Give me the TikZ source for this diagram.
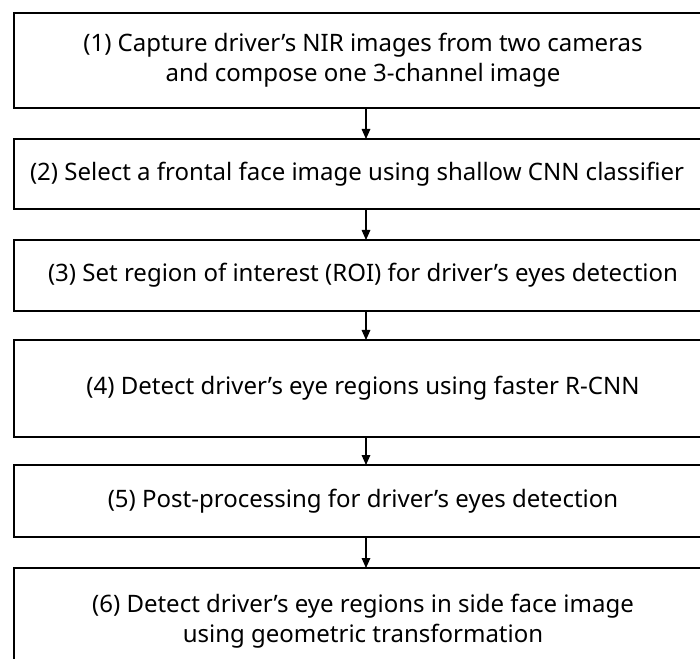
\documentclass[tikz,border=0pt]{standalone}
\usepackage{fontspec}
\setmainfont{Noto Sans}
\usetikzlibrary{arrows.meta}
\begin{document}
\begin{tikzpicture}[x=0.75pt,y=-0.75pt,
  stepbox/.style={draw=black, line width=1.6pt, minimum width=523.5pt, inner sep=0pt, outer sep=0pt,
    align=center, font=\fontsize{18}{22.5}\selectfont, anchor=north west},
  flow/.style={-{Triangle[width=6.5pt,length=7.5pt]}, line width=0.8pt}]
\useasboundingbox (0,0) rectangle (700,659);
\clip (0,0) rectangle (700,659);
\fill[white] (0,0) rectangle (700,659);
\node[stepbox, minimum height=71.25pt] (b1) at (14,13) {(1) Capture driver’s NIR images from two cameras\\and compose one 3-channel image};
\node[stepbox, minimum height=52.5pt] (b2) at (14,139) {(2) Select a frontal face image using shallow CNN classifier\kern9pt};
\node[stepbox, minimum height=53.25pt] (b3) at (14,240) {(3) Set region of interest (ROI) for driver’s eyes detection};
\node[stepbox, minimum height=72.75pt] (b4) at (14,340) {(4) Detect driver’s eye regions using faster R-CNN};
\node[stepbox, minimum height=54pt] (b5) at (14,465) {(5) Post-processing for driver’s eyes detection};
\node[stepbox, minimum height=79.5pt] (b6) at (14,568) {(6) Detect driver’s eye regions in side face image\\using geometric transformation};
\foreach \a/\b in {b1/b2,b2/b3,b3/b4,b4/b5,b5/b6}
  \draw[flow] ([xshift=2.25pt]\a.south) -- ([xshift=2.25pt]\b.north);
\end{tikzpicture}
\end{document}
